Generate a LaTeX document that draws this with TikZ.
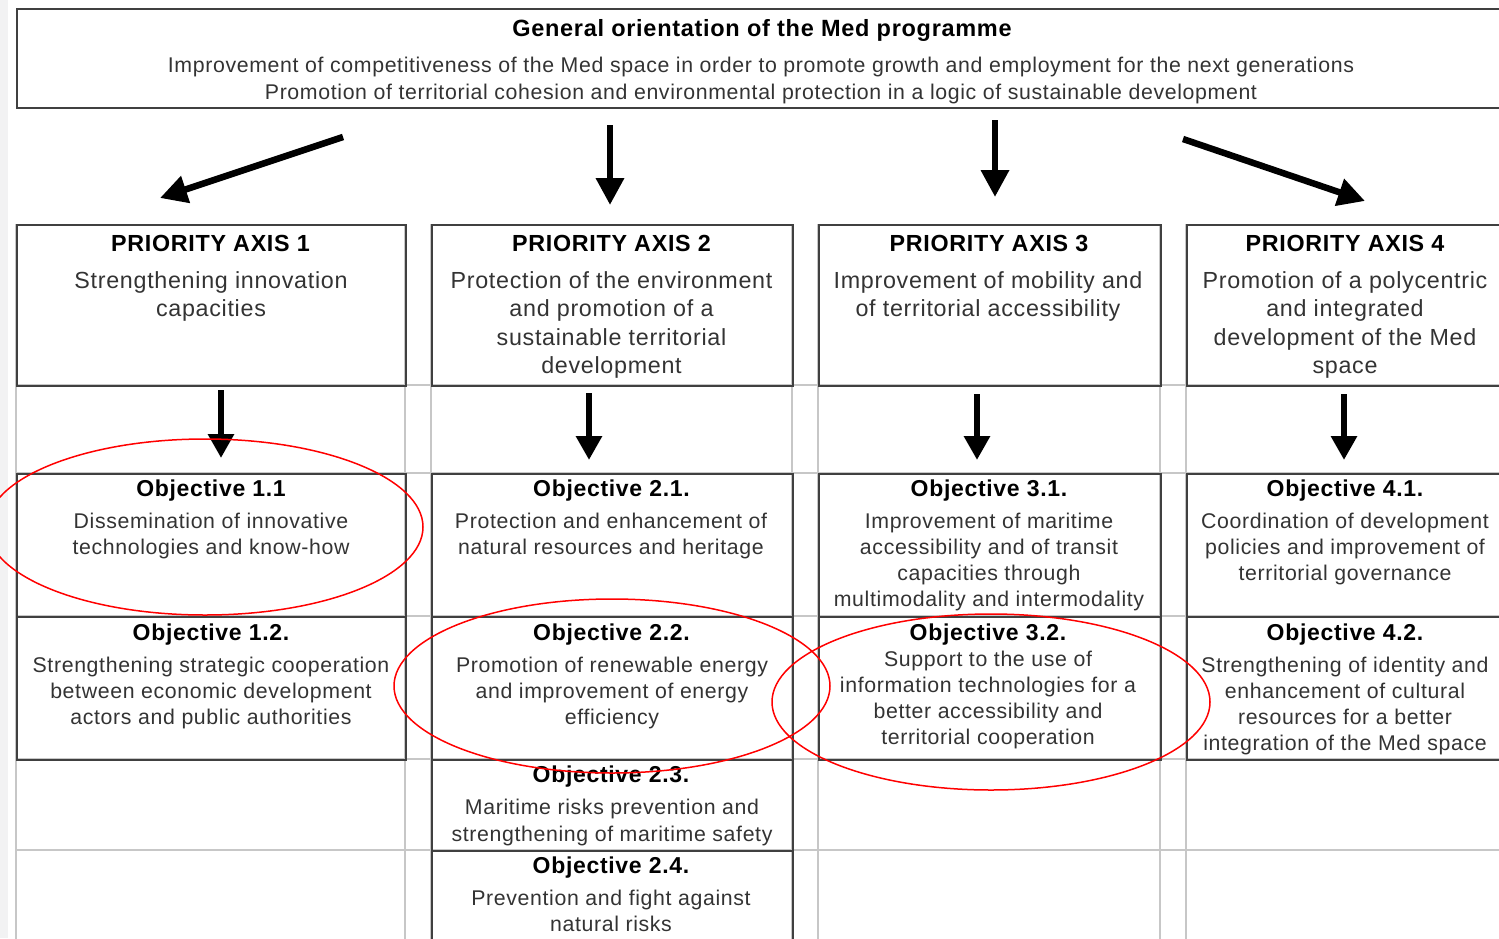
\documentclass[tikz,border=0pt]{standalone}
\usepackage{fontspec}
\setmainfont{Liberation Sans}
\newfontfamily\wideface[LetterSpace=3]{Liberation Sans}
\usetikzlibrary{arrows.meta}

\tikzset{
    cell/.style={draw=black!75, line width=1.8pt, anchor=north west, inner sep=0pt},
    grid line/.style={draw=black!22, line width=1.5pt},
    fat arrow/.style={line width=6.5pt, -{Triangle[length=27pt,width=27pt]}},
    small arrow/.style={line width=6pt, -{Triangle[length=24pt,width=25pt]}},
    ring/.style={draw=red, line width=1.5pt},
    head/.style={anchor=base, inner sep=0pt, font=\wideface\bfseries\fontsize{23}{26}\selectfont},
    axhead/.style={anchor=base, inner sep=0pt, font=\wideface\bfseries\fontsize{23.3}{26}\selectfont},
    axbody/.style={anchor=north, align=center, inner sep=0pt, text=black!80,
        font=\wideface\fontsize{23.3}{28.5}\selectfont},
    body/.style={anchor=north, align=center, inner sep=0pt, text=black!80,
        font=\wideface\fontsize{21.3}{26}\selectfont},
}

\begin{document}
\begin{tikzpicture}[x=1pt,y=-1pt]
    \useasboundingbox (0,0) rectangle (1499,938);
    \fill[blue!3!black!5] (0,0) rectangle (8,938);

    % table grid
    \foreach \gx in {16,405,431,792,818,1160,1186}
        \draw[grid line] (\gx,224) -- (\gx,945);
    \foreach \gy in {385,473,616,759,850}
        \draw[grid line] (16,\gy) -- (1506,\gy);

    % general orientation
    \node[cell, minimum width=1490pt, minimum height=99pt] (gen) at (16,8) {};
    \node[head, font=\wideface\bfseries\fontsize{23.5}{26}\selectfont] (genh) at (762,36)
        {General orientation of the Med programme};
    \node[body, font=\wideface\fontsize{21.3}{27}\selectfont] (genb) at (761,56.5)
        {Improvement of competitiveness of the Med space in order to promote growth and employment for the next generations\\
         Promotion of territorial cohesion and environmental protection in a logic of sustainable development};

    % priority axes
    \node[cell, minimum width=389pt, minimum height=161pt] (ax1) at (16,224) {};
    \node[cell, minimum width=361pt, minimum height=161pt] (ax2) at (431,224) {};
    \node[cell, minimum width=342pt, minimum height=161pt] (ax3) at (818,224) {};
    \node[cell, minimum width=320pt, minimum height=161pt] (ax4) at (1186,224) {};

    \node[axhead] (ax1h) at (210.5,251.5) {PRIORITY AXIS 1};
    \node[axhead] (ax2h) at (611.5,251.5) {PRIORITY AXIS 2};
    \node[axhead] (ax3h) at (989,251.5) {PRIORITY AXIS 3};
    \node[axhead] (ax4h) at (1345,251.5) {PRIORITY AXIS 4};

    \node[axbody] (ax1b) at (211,271) {Strengthening innovation\\capacities};
    \node[axbody] (ax2b) at (611.5,271) {Protection of the environment\\and promotion of a\\sustainable territorial\\development};
    \node[axbody] (ax3b) at (988,271) {Improvement of mobility and\\of territorial accessibility};
    \node[axbody] (ax4b) at (1345,271) {Promotion of a polycentric\\and integrated\\development of the Med\\space};

    % objectives
    \node[cell, minimum width=389pt, minimum height=143pt] (o11) at (16,473) {};
    \node[cell, minimum width=361pt, minimum height=143pt] (o21) at (431,473) {};
    \node[cell, minimum width=342pt, minimum height=143pt] (o31) at (818,473) {};
    \node[cell, minimum width=320pt, minimum height=143pt] (o41) at (1186,473) {};
    \node[cell, minimum width=389pt, minimum height=143pt] (o12) at (16,616) {};
    \node[cell, minimum width=361pt, minimum height=143pt] (o22) at (431,616) {};
    \node[cell, minimum width=342pt, minimum height=143pt] (o32) at (818,616) {};
    \node[cell, minimum width=320pt, minimum height=143pt] (o42) at (1186,616) {};
    \node[cell, minimum width=361pt, minimum height=91pt] (o23) at (431,759) {};
    \node[cell, minimum width=361pt, minimum height=95pt] (o24) at (431,850) {};

    \node[head] (o11h) at (211,496) {Objective 1.1};
    \node[head] (o21h) at (611.5,496) {Objective 2.1.};
    \node[head] (o31h) at (989,496) {Objective 3.1.};
    \node[head] (o41h) at (1345,496) {Objective 4.1.};
    \node[head] (o12h) at (211,640) {Objective 1.2.};
    \node[head] (o22h) at (611.5,640) {Objective 2.2.};
    \node[head] (o32h) at (988,640) {Objective 3.2.};
    \node[head] (o42h) at (1345,640) {Objective 4.2.};
    \node[head] (o23h) at (611,782) {Objective 2.3.};
    \node[head] (o24h) at (611,873) {Objective 2.4.};

    \node[body] (o11b) at (211,512.5) {Dissemination of innovative\\technologies and know-how};
    \node[body] (o21b) at (611,512.5) {Protection and enhancement of\\natural resources and heritage};
    \node[body] (o31b) at (989,512.5) {Improvement of maritime\\accessibility and of transit\\capacities through\\multimodality and intermodality};
    \node[body] (o41b) at (1345,512.5) {Coordination of development\\policies and improvement of\\territorial governance};
    \node[body] (o12b) at (211,656.5) {Strengthening strategic cooperation\\between economic development\\actors and public authorities};
    \node[body] (o22b) at (612,656.5) {Promotion of renewable energy\\and improvement of energy\\efficiency};
    \node[body] (o32b) at (988,651) {Support to the use of\\information technologies for a\\better accessibility and\\territorial cooperation};
    \node[body] (o42b) at (1345,656.5) {Strengthening of identity and\\enhancement of cultural\\resources for a better\\integration of the Med space};
    \node[body, font=\wideface\fontsize{21.3}{27}\selectfont] (o23b) at (612,798.5) {Maritime risks prevention and\\strengthening of maritime safety};
    \node[body] (o24b) at (611,889.5) {Prevention and fight against\\natural risks};

    % arrows
    \coordinate (g1) at (343,137);  \coordinate (t1) at (160,198);
    \coordinate (g2) at (610,125);  \coordinate (t2) at (610,205);
    \coordinate (g3) at (995,120);  \coordinate (t3) at (995,197);
    \coordinate (g4) at (1183,139); \coordinate (t4) at (1365,201);
    \draw[fat arrow] (g1) -- (t1);
    \draw[fat arrow] (g2) -- (t2);
    \draw[fat arrow] (g3) -- (t3);
    \draw[fat arrow] (g4) -- (t4);

    \coordinate (d1) at (221,390);  \coordinate (e1) at (221,458);
    \coordinate (d2) at (589,393);  \coordinate (e2) at (589,460);
    \coordinate (d3) at (977,394);  \coordinate (e3) at (977,460);
    \coordinate (d4) at (1344,394); \coordinate (e4) at (1344,460);
    \draw[small arrow] (d1) -- (e1);
    \draw[small arrow] (d2) -- (e2);
    \draw[small arrow] (d3) -- (e3);
    \draw[small arrow] (d4) -- (e4);

    % highlighted objectives
    \draw[ring] (205,527) ellipse [x radius=218pt, y radius=88pt];
    \draw[ring] (612,686) ellipse [x radius=218pt, y radius=87pt];
    \draw[ring] (991,702) ellipse [x radius=219pt, y radius=88pt];
\end{tikzpicture}
\end{document}
